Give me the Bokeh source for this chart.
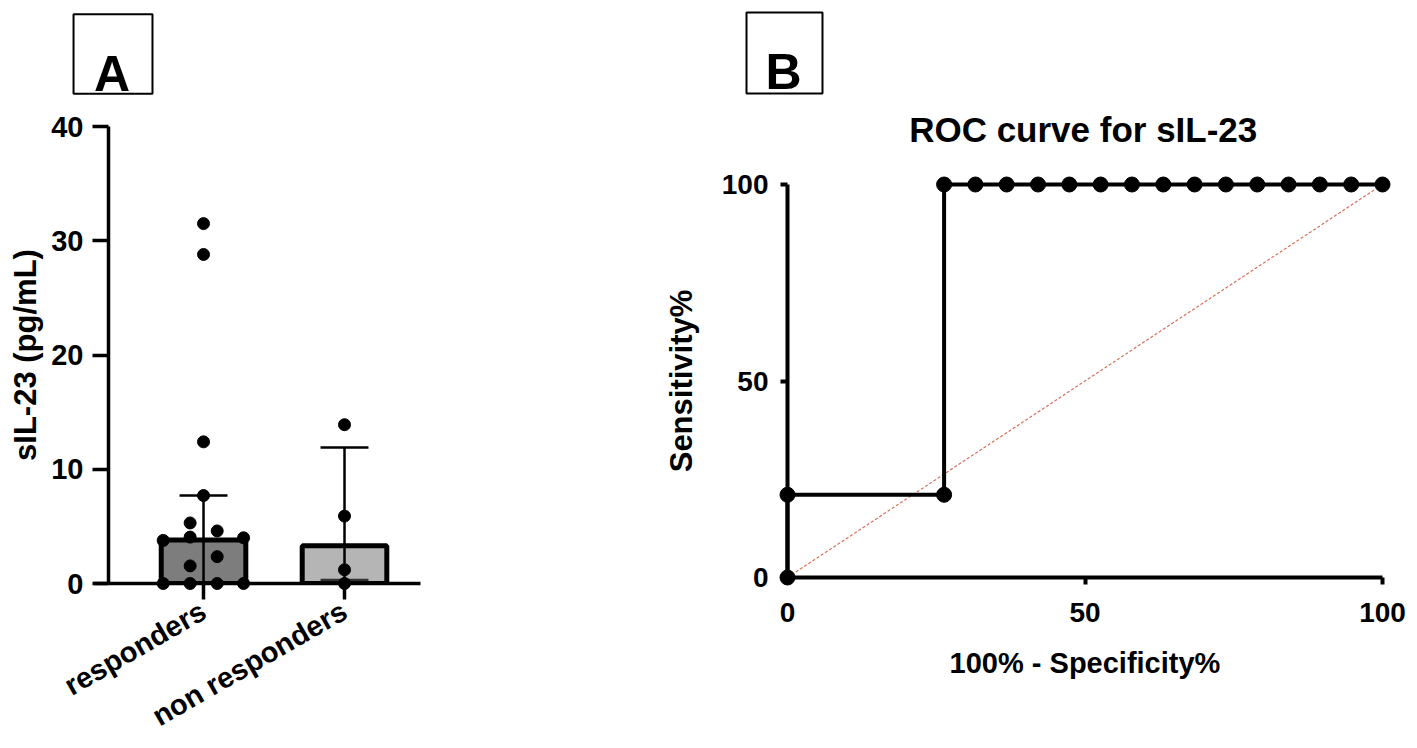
import math
from bokeh.plotting import figure
from bokeh.models import FixedTicker, Range1d
from bokeh.layouts import row
from bokeh.embed import file_html
from bokeh.resources import INLINE
from bokeh.core.properties import value

FONT = "Liberation Sans"

# ---------------- Panel A data ----------------
groups = ["responders", "non responders"]
group_pos = [1, 2]
bar_heights = [3.8, 3.3]
err_upper = [7.7, 11.9]
err_lower = [0.0, 0.3]
bar_fill = ["#7d7d7d", "#b5b5b5"]
resp_values = [31.5, 28.8, 12.4, 7.7, 5.3, 4.6, 4.06, 3.77, 4.0, 2.35, 1.54, 0.0, 0.0, 0.0, 0.0]
resp_jitter = [0, 0, 0, 0, -0.095, 0.097, -0.095, -0.286, 0.284, 0.097, -0.095, -0.286, -0.095, 0.097, 0.284]
nonresp_values = [13.9, 5.9, 1.2, 0.0]
nonresp_jitter = [0, 0, 0, 0]
a_yticks = [0, 10, 20, 30, 40]

# ---------------- Panel B data ----------------
roc_fpr = [0, 0, 26.32, 26.32, 31.58, 36.84, 42.11, 47.37, 52.63, 57.89,
           63.16, 68.42, 73.68, 78.95, 84.21, 89.47, 94.74, 100]
roc_tpr = [0, 21.05, 21.05, 100, 100, 100, 100, 100, 100, 100,
           100, 100, 100, 100, 100, 100, 100, 100]
chance_x = [0, 100]
chance_y = [0, 100]
b_ticks = [0, 50, 100]


def style_axis(ax, label_size, width, tick_out):
    ax.major_label_text_font = FONT
    ax.major_label_text_font_style = "bold"
    ax.major_label_text_font_size = label_size
    ax.major_label_text_color = "black"
    ax.axis_label_text_font = FONT
    ax.axis_label_text_font_style = "bold"
    ax.axis_label_text_color = "black"
    ax.axis_line_color = "black"
    ax.axis_line_width = width
    ax.major_tick_line_color = "black"
    ax.major_tick_line_width = width
    ax.minor_tick_line_color = None
    ax.major_tick_in = 0
    ax.major_tick_out = tick_out


def base_style(p):
    p.outline_line_color = None
    p.xgrid.visible = False
    p.ygrid.visible = False
    p.background_fill_color = "white"
    p.border_fill_color = "white"


def panel_letter(p, left, right, bottom, top, cx, base, letter):
    p.quad(left=[left], right=[right], bottom=[bottom], top=[top],
           fill_color="white", line_color="black", line_width=2, level="overlay")
    p.text(x=[cx], y=[base], text=[letter], text_align="center",
           text_baseline="alphabetic", text_font=value(FONT),
           text_font_style="bold", text_font_size=value("50px"),
           text_color="black", level="overlay")


H = 748

# ================= Panel A =================
pa = figure(width=640, height=H, output_backend="svg", toolbar_location=None,
            title_location=None, frame_align=False,
            x_range=Range1d(0.326, 2.539), y_range=Range1d(0, 40),
            min_border_left=108, min_border_right=220,
            min_border_top=126, min_border_bottom=H - 586)
base_style(pa)

pa.vbar(x=group_pos, top=bar_heights, width=0.6, fill_color=bar_fill,
        line_color="black", line_width=5)

cap_half = 0.17
pa.segment(x0=group_pos, y0=err_lower, x1=group_pos, y1=err_upper,
           line_color="black", line_width=2.5)
pa.segment(x0=[g - cap_half for g in group_pos], y0=err_upper,
           x1=[g + cap_half for g in group_pos], y1=err_upper,
           line_color="black", line_width=2.5)
pa.segment(x0=[g - cap_half for g in group_pos], y0=err_lower,
           x1=[g + cap_half for g in group_pos], y1=err_lower,
           line_color="#333333", line_width=2.5)

# short extension of the x axis line to the left of the y axis (Prism style)
pa.segment(x0=[0.22], y0=[0], x1=[0.326], y1=[0], line_color="black",
           line_width=3.5, level="overlay")

pa.scatter(x=[group_pos[0] + j for j in resp_jitter], y=resp_values,
           size=12, fill_color="black", line_color="black", level="overlay")
pa.scatter(x=[group_pos[1] + j for j in nonresp_jitter], y=nonresp_values,
           size=12, fill_color="black", line_color="black", level="overlay")

style_axis(pa.xaxis[0], "29px", 3.5, 16)
pa.xaxis.ticker = FixedTicker(ticks=group_pos)
pa.xaxis.major_label_overrides = {group_pos[i]: groups[i] for i in range(len(groups))}
pa.xaxis.major_label_orientation = math.radians(30)
pa.xaxis.major_label_standoff = 9

style_axis(pa.yaxis[0], "29px", 3.5, 16)
pa.yaxis.ticker = FixedTicker(ticks=a_yticks)
pa.yaxis.axis_label = "sIL-23 (pg/mL)"
pa.yaxis.axis_label_text_font_size = "31px"
pa.yaxis.major_label_standoff = 9
pa.yaxis.axis_label_standoff = 5

panel_letter(pa, 0.078, 0.638, 42.87, 49.83, 0.352, 44.63, "A")

# ================= Panel B =================
pb = figure(width=770, height=H, output_backend="svg", toolbar_location=None,
            title_location=None, frame_align=False,
            x_range=Range1d(0, 100), y_range=Range1d(0, 100),
            min_border_left=787 - 640, min_border_right=640 + 770 - 1382,
            min_border_top=184, min_border_bottom=H - 577)
base_style(pb)

pb.line(chance_x, chance_y, line_color="#d9705a", line_width=1.2, line_dash="3 2")
pb.line(roc_fpr, roc_tpr, line_color="black", line_width=4, level="overlay")
pb.scatter(roc_fpr, roc_tpr, size=15, fill_color="black", line_color="black",
           level="overlay")

style_axis(pb.xaxis[0], "28px", 4, 7)
pb.xaxis.ticker = FixedTicker(ticks=b_ticks)
pb.xaxis.axis_label = "100% - Specificity%"
pb.xaxis.axis_label_text_font_size = "29px"
pb.xaxis.major_label_standoff = 18
pb.xaxis.axis_label_standoff = 22

style_axis(pb.yaxis[0], "28px", 4, 7)
pb.yaxis.ticker = FixedTicker(ticks=b_ticks)
pb.yaxis.axis_label = "Sensitivity%"
pb.yaxis.axis_label_text_font_size = "31px"
pb.yaxis.major_label_standoff = 12
pb.yaxis.axis_label_standoff = 20

pb.text(x=[49.7], y=[114.0], text=["ROC curve for sIL-23"], text_align="center",
        text_baseline="alphabetic", text_font=value(FONT),
        text_font_style="bold", text_font_size=value("35px"), text_color="black",
        level="overlay")
panel_letter(pb, -6.89, 5.88, 123.16, 143.77, -0.67, 128.5, "B")

layout = row(pa, pb)
open("out.html", "w").write(file_html(layout, INLINE))
